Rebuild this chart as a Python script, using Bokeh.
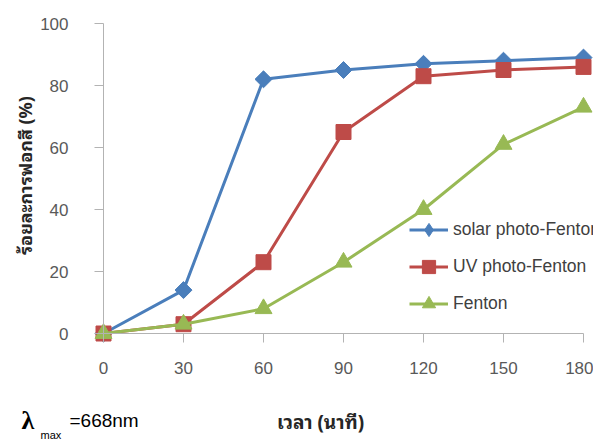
import math

from bokeh.plotting import figure
from bokeh.models import Range1d, LinearAxis, FixedTicker, Legend, LegendItem, Label
from bokeh.embed import file_html
from bokeh.resources import INLINE

# Decolourisation (%) versus reaction time (min)
time_min = [0, 30, 60, 90, 120, 150, 180]
solar_photo_fenton = [0, 14, 82, 85, 87, 88, 89]
uv_photo_fenton = [0, 3, 23, 65, 83, 85, 86]
fenton = [0, 3, 8, 23, 40, 61, 73]

x_ticks = [0, 30, 60, 90, 120, 150, 180]
y_ticks = [0, 20, 40, 60, 80, 100]

series_names = ["solar photo-Fenton", "UV photo-Fenton", "Fenton"]

BLUE = "#4a7ebb"
RED = "#be4b48"
GREEN = "#98b954"
AXIS = "#b3b3b3"
TICK_TEXT = "#595959"
THAI = "Tahoma, 'Noto Sans Thai Looped', 'Noto Sans Thai', 'Noto Sans', sans-serif"
LATIN = "'Liberation Sans', Arial, sans-serif"

W, H = 593, 445
# pixel scale: 8/3 px per minute, 3.1 px per percent; origin at (103, 333)
px_x = 8.0 / 3.0
px_y = 3.1
x0_px, y0_px = 103.0, 333.0

p = figure(
    width=W, height=H,
    x_range=Range1d(-x0_px / px_x, (W - x0_px) / px_x),
    y_range=Range1d(-(H - y0_px) / px_y, y0_px / px_y),
    x_axis_type=None, y_axis_type=None,
    toolbar_location=None, output_backend="svg",
    min_border=0,
)
p.outline_line_color = None
p.grid.visible = False
p.background_fill_color = "white"
p.border_fill_color = "white"

# axes crossing at the origin
xaxis = LinearAxis(fixed_location=0, bounds=(0, 180), ticker=FixedTicker(ticks=x_ticks))
yaxis = LinearAxis(fixed_location=0, bounds=(0, 100), ticker=FixedTicker(ticks=y_ticks))
for ax in (xaxis, yaxis):
    ax.axis_line_color = AXIS
    ax.axis_line_width = 1
    ax.major_tick_line_color = AXIS
    ax.major_tick_in = 0
    ax.major_tick_out = 9
    ax.minor_tick_line_color = None
    ax.major_label_text_font = LATIN
    ax.major_label_text_font_size = "17px"
    ax.major_label_text_color = TICK_TEXT
xaxis.major_label_standoff = 19
yaxis.major_label_standoff = 26
p.add_layout(xaxis, "below")
p.add_layout(yaxis, "left")

# series
r_solar_line = p.line(time_min, solar_photo_fenton, line_color=BLUE, line_width=3)
# plain diamond underneath the rotated squares; it supplies the legend key shape
solar_key = p.scatter(time_min, solar_photo_fenton, marker="diamond", size=15,
                      fill_color=BLUE, line_color=BLUE)
r_solar_mark = p.scatter(time_min, solar_photo_fenton, marker="square", angle=math.pi / 4,
                         size=12, fill_color=BLUE, line_color=BLUE)
r_uv_line = p.line(time_min, uv_photo_fenton, line_color=RED, line_width=3)
r_uv_mark = p.scatter(time_min, uv_photo_fenton, marker="square", size=15,
                      fill_color=RED, line_color=RED)
r_fen_line = p.line(time_min, fenton, line_color=GREEN, line_width=3)
r_fen_mark = p.scatter(time_min, fenton, marker="triangle", size=17,
                       fill_color=GREEN, line_color=GREEN)

legend = Legend(
    items=[
        LegendItem(label=series_names[0], renderers=[r_solar_line, solar_key]),
        LegendItem(label=series_names[1], renderers=[r_uv_line, r_uv_mark]),
        LegendItem(label=series_names[2], renderers=[r_fen_line, r_fen_mark]),
    ],
    location=(409, H - 320),
    orientation="vertical",
    background_fill_alpha=0,
    border_line_color=None,
    padding=0, margin=0,
    spacing=4,
    glyph_width=39, glyph_height=33,
    label_height=33,
    label_standoff=5,
    label_text_font=LATIN,
    label_text_font_size="17.5px",
    label_text_color="#404040",
)
p.add_layout(legend, "center")

# axis titles
p.add_layout(Label(
    x=(23 - x0_px) / px_x, y=(y0_px - 175) / px_y,
    text="ร้อยละการฟอกสี (%)", angle=math.pi / 2,
    text_align="center", text_baseline="middle",
    text_font=THAI, text_font_size="18px", text_font_style="bold",
    text_color="#262626",
))
p.add_layout(Label(
    x=(320 - x0_px) / px_x, y=(y0_px - 420) / px_y,
    text="เวลา (นาที)",
    text_align="center", text_baseline="middle",
    text_font=THAI, text_font_size="19px", text_font_style="bold",
    text_color="#262626",
))

# wavelength note
p.add_layout(Label(
    x=(21 - x0_px) / px_x, y=(y0_px - 420) / px_y,
    text="λ", text_align="left", text_baseline="alphabetic",
    text_font="'Liberation Serif', serif", text_font_size="26px", text_font_style="bold",
    text_color="black",
))
p.add_layout(Label(
    x=(40 - x0_px) / px_x, y=(y0_px - 434) / px_y,
    text="max", text_align="left", text_baseline="alphabetic",
    text_font=LATIN, text_font_size="11px", text_color="black",
))
p.add_layout(Label(
    x=(69 - x0_px) / px_x, y=(y0_px - 420) / px_y,
    text="=668nm", text_align="left", text_baseline="alphabetic",
    text_font=LATIN, text_font_size="19px", text_color="black",
))

open("out.html", "w").write(file_html(p, INLINE))
